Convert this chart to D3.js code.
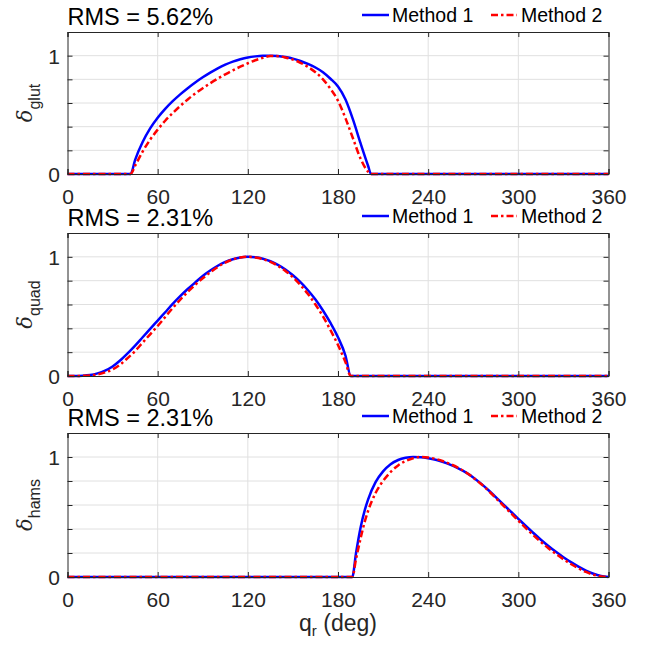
<!DOCTYPE html>
<html>
<head>
<meta charset="utf-8">
<script src="https://cdn.jsdelivr.net/npm/d3@7"></script>
<style>
  body { margin: 0; background: #fff; }
  text { font-family: "Liberation Sans", Arial, Helvetica, sans-serif; }
</style>
</head>
<body>
<svg width="647" height="645"></svg>
<script>
// values, angle in deg
const glutDeg = [0, 42, 45, 50, 55, 60, 65, 70, 75, 80, 85, 90, 95, 100, 105, 110, 115, 120, 125, 130, 135, 140, 145, 150, 155, 160, 165, 170, 175, 180, 185, 190, 195, 200, 202, 360]
const glutM1 = [0, 0, 0.12, 0.27, 0.385, 0.475, 0.55, 0.615, 0.673, 0.725, 0.773, 0.817, 0.857, 0.893, 0.924, 0.95, 0.97, 0.985, 0.994, 0.999, 1.0, 0.997, 0.988, 0.975, 0.955, 0.93, 0.9, 0.86, 0.805, 0.74, 0.63, 0.46, 0.26, 0.07, 0, 0]
const glutM2 = [0, 0, 0.07, 0.19, 0.29, 0.375, 0.45, 0.515, 0.575, 0.63, 0.68, 0.725, 0.767, 0.806, 0.842, 0.876, 0.907, 0.936, 0.961, 0.982, 0.997, 0.996, 0.985, 0.967, 0.94, 0.905, 0.86, 0.8, 0.72, 0.62, 0.47, 0.3, 0.13, 0.02, 0, 0]

const quadDeg = [0, 5, 10, 15, 20, 25, 30, 35, 40, 45, 50, 55, 60, 65, 70, 75, 80, 85, 90, 95, 100, 105, 110, 115, 120, 125, 130, 135, 140, 145, 150, 155, 160, 165, 170, 175, 180, 185, 188.5, 360]
const quadM1 = [0, 0, 0.002, 0.008, 0.022, 0.045, 0.08, 0.13, 0.19, 0.255, 0.325, 0.395, 0.465, 0.535, 0.605, 0.67, 0.73, 0.785, 0.84, 0.885, 0.925, 0.957, 0.98, 0.995, 1.0, 0.996, 0.984, 0.963, 0.933, 0.894, 0.845, 0.787, 0.72, 0.642, 0.55, 0.445, 0.325, 0.17, 0, 0]
const quadM2 = [0, 0, 0.001, 0.005, 0.014, 0.03, 0.055, 0.095, 0.15, 0.21, 0.28, 0.35, 0.42, 0.495, 0.57, 0.64, 0.705, 0.765, 0.82, 0.87, 0.915, 0.952, 0.978, 0.994, 1.0, 0.995, 0.981, 0.958, 0.925, 0.882, 0.828, 0.763, 0.688, 0.6, 0.5, 0.385, 0.26, 0.115, 0, 0]

const hamsDeg = [0, 189.5, 192, 195, 198, 200, 205, 210, 215, 220, 225, 230, 235, 240, 245, 250, 255, 260, 265, 270, 275, 280, 285, 290, 295, 300, 305, 310, 315, 320, 325, 330, 335, 340, 345, 350, 355, 360]
const hamsM1 = [0, 0, 0.2, 0.41, 0.565, 0.645, 0.79, 0.88, 0.94, 0.975, 0.993, 1.0, 0.998, 0.99, 0.977, 0.958, 0.934, 0.905, 0.872, 0.83, 0.78, 0.725, 0.665, 0.605, 0.545, 0.485, 0.425, 0.367, 0.311, 0.259, 0.21, 0.165, 0.124, 0.087, 0.054, 0.027, 0.009, 0]
const hamsM2 = [0, 0, 0.15, 0.32, 0.47, 0.55, 0.7, 0.8, 0.875, 0.93, 0.967, 0.99, 1.0, 0.996, 0.984, 0.965, 0.94, 0.91, 0.873, 0.828, 0.777, 0.72, 0.658, 0.595, 0.533, 0.47, 0.408, 0.348, 0.292, 0.24, 0.192, 0.148, 0.108, 0.072, 0.042, 0.019, 0.005, 0]

const rmsLabels = ['RMS = 5.62%', 'RMS = 2.31%', 'RMS = 2.31%']
const muscleNames = ['glut', 'quad', 'hams']
const seriesNames = ['Method 1', 'Method 2']
const xTicks = [0, 60, 120, 180, 240, 300, 360]
const yTicks = [0, 0.2, 0.4, 0.6, 0.8, 1, 1.2]
const yLabeled = [0, 1]

const panels = [
  {deg: glutDeg, m1: glutM1, m2: glutM2, top: 32, bottom: 174},
  {deg: quadDeg, m1: quadM1, m2: quadM2, top: 233, bottom: 376},
  {deg: hamsDeg, m1: hamsM1, m2: hamsM2, top: 433, bottom: 577}
]

const svg = d3.select('svg')
const left = 67.5, right = 608.5
const axisColor = '#262626'
const gridColor = '#e0e0e0'
const dash = '7,3,2.5,3'

const xScale = d3.scaleLinear().domain([0, 360]).range([left, right])

panels.forEach((p, i) => {
  const yScale = d3.scaleLinear().domain([0, 1.2]).range([p.bottom, p.top])
  const g = svg.append('g')

  // grid
  g.selectAll('.gx').data(xTicks.slice(1, -1)).enter().append('line')
    .attr('x1', d => xScale(d)).attr('x2', d => xScale(d))
    .attr('y1', p.top).attr('y2', p.bottom)
    .attr('stroke', gridColor).attr('stroke-width', 1)
  g.selectAll('.gy').data(yTicks.slice(1, -1)).enter().append('line')
    .attr('x1', left).attr('x2', right)
    .attr('y1', d => yScale(d)).attr('y2', d => yScale(d))
    .attr('stroke', gridColor).attr('stroke-width', 1)

  // curves
  const line = d3.line()
    .x(d => xScale(d[0]))
    .y(d => yScale(d[1]))
    .curve(d3.curveMonotoneX)
  g.append('path').datum(p.deg.map((d, k) => [d, p.m1[k]]))
    .attr('d', line).attr('fill', 'none')
    .attr('stroke', '#0000ff').attr('stroke-width', 2.5)
  g.append('path').datum(p.deg.map((d, k) => [d, p.m2[k]]))
    .attr('d', line).attr('fill', 'none')
    .attr('stroke', '#ff0000').attr('stroke-width', 2.5)
    .attr('stroke-dasharray', dash)

  // axes, ticks inside, box on
  const xb = g.append('g').attr('transform', `translate(0,${p.bottom})`)
    .call(d3.axisBottom(xScale).tickValues(xTicks).tickSize(-5).tickPadding(10).tickFormat(d3.format('d')))
  const xt = g.append('g').attr('transform', `translate(0,${p.top})`)
    .call(d3.axisTop(xScale).tickValues(xTicks).tickSize(-5).tickFormat(''))
  const yl = g.append('g').attr('transform', `translate(${left},0)`)
    .call(d3.axisLeft(yScale).tickValues(yTicks).tickSize(-5).tickPadding(8)
      .tickFormat(d => yLabeled.includes(d) ? d3.format('d')(d) : ''))
  const yr = g.append('g').attr('transform', `translate(${right},0)`)
    .call(d3.axisRight(yScale).tickValues(yTicks).tickSize(-5).tickFormat(''))
  ;[xb, xt, yl, yr].forEach(a => {
    a.select('.domain').attr('stroke', axisColor).attr('stroke-width', 1)
    a.selectAll('.tick line').attr('stroke', axisColor)
    a.selectAll('.tick text').attr('fill', axisColor)
      .style('font-family', '"Liberation Sans", Arial, sans-serif').style('font-size', '21px')
  })
  xb.selectAll('.tick text').attr('dy', '0.71em').attr('y', 15)
  yl.selectAll('.tick text').attr('dy', '0.36em').attr('x', -7.5)

  // title
  svg.append('text').attr('x', left).attr('y', p.top - 7)
    .attr('fill', '#000').style('font-size', '23.5px').text(rmsLabels[i])

  // legend (no box)
  const ly = p.top - 17
  const leg = [[362, 389, 392, '#0000ff', null], [491, 517, 521, '#ff0000', dash]]
  leg.forEach((l, k) => {
    svg.append('line').attr('x1', l[0]).attr('x2', l[1]).attr('y1', ly).attr('y2', ly)
      .attr('stroke', l[3]).attr('stroke-width', 2.5)
      .attr('stroke-dasharray', l[4])
    svg.append('text').attr('x', l[2]).attr('y', ly + 7)
      .attr('fill', '#000').style('font-size', '19.5px').text(seriesNames[k])
  })

  // y label: delta with subscript
  const cy = (p.top + p.bottom) / 2
  const yt = svg.append('text')
    .attr('transform', `translate(32,${cy}) rotate(-90)`)
    .attr('text-anchor', 'middle').attr('fill', axisColor)
  yt.append('tspan').text('δ')
    .style('font-family', '"DejaVu Serif", "Liberation Serif", serif')
    .style('font-style', 'italic').style('font-size', '21px')
  yt.append('tspan').attr('dy', 8).text(muscleNames[i]).style('font-size', '16px')
})

// x label
const xl = svg.append('text').attr('x', (left + right) / 2).attr('y', 631)
  .attr('text-anchor', 'middle').attr('fill', axisColor).style('font-size', '23px')
xl.append('tspan').text('q')
xl.append('tspan').attr('dy', 5).style('font-size', '15px').text('r')
xl.append('tspan').attr('dy', -5).text(' (deg)')
</script>
</body>
</html>
